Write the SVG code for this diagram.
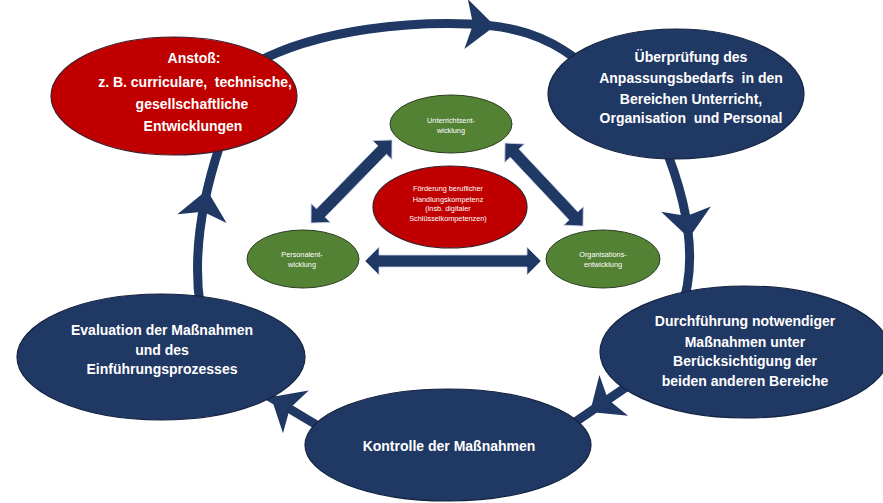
<svg xmlns="http://www.w3.org/2000/svg" width="883" height="503" viewBox="0 0 883 503">
<defs>
<style>
.ring{fill:none;stroke:#203864;stroke-width:9}
.head{fill:#203864}
.navy{fill:#203864;stroke:#15233f;stroke-width:1.2}
.red{fill:#C00000;stroke:#3a1f2a;stroke-width:1.2}
.green{fill:#548235;stroke:#2c3f22;stroke-width:1}
.t{font-family:"Liberation Sans",Arial,sans-serif;font-weight:bold;font-size:14px;fill:#fff;text-anchor:middle;white-space:pre}
.s{font-family:"Liberation Sans",Arial,sans-serif;font-size:7.3px;fill:#fff;text-anchor:middle}
.dbl{fill:#203864;stroke:#c9d3e6;stroke-width:0.8}
</style>
<polygon id="ah" points="0,0 -29,-25 -22,0 -29,25"/>
</defs>
<rect width="883" height="503" fill="#fff"/>
<g id="connectors">
<path class="ring" d="M 250 66 C 320 26, 420 22, 470 24 C 515 26, 545 36, 575 58"/>
<path class="ring" d="M 662 140 Q 706 245 680 312"/>
<path class="ring" d="M 635 381 L 565 429"/>
<path class="ring" d="M 325 430 L 255 388"/>
<path class="ring" d="M 200 305 Q 190 235 220 145"/>
<use href="#ah" class="head" transform="translate(495,26) rotate(4)"/>
<use href="#ah" class="head" transform="translate(689,238) rotate(84)"/>
<use href="#ah" class="head" transform="translate(590,412) rotate(145)"/>
<use href="#ah" class="head" transform="translate(271,397) rotate(211)"/>
<use href="#ah" class="head" transform="translate(207,190) rotate(-80)"/>
<polygon class="dbl" points="365,261 379,247 379,255 527,255 527,247 541,261 527,275 527,267 379,267 379,275"/>
<polygon class="dbl" transform="translate(311,223) rotate(-45.7)" points="0,0 14,-13.5 14,-6 102,-6 102,-13.5 116,0 102,13.5 102,6 14,6 14,13.5"/>
<polygon class="dbl" transform="translate(505,143) rotate(46.8)" points="0,0 14,-13.5 14,-6 100,-6 100,-13.5 114,0 100,13.5 100,6 14,6 14,13.5"/>
</g>
<g id="n-anstoss">
<ellipse class="red" cx="174" cy="96" rx="123" ry="59"/>
<text class="t" x="194" y="63">Anstoß:</text>
<text class="t" x="195" y="87">z. B. curriculare,  technische,</text>
<text class="t" x="192" y="109">gesellschaftliche</text>
<text class="t" x="193" y="131">Entwicklungen</text>
</g>
<g id="n-ueberpruefung">
<ellipse class="navy" cx="676" cy="94" rx="128" ry="65"/>
<text class="t" x="691" y="62">Überprüfung des</text>
<text class="t" x="691" y="83">Anpassungsbedarfs  in den</text>
<text class="t" x="691" y="104">Bereichen Unterricht,</text>
<text class="t" x="691" y="123">Organisation  und Personal</text>
</g>
<g id="n-durchfuehrung">
<ellipse class="navy" cx="745" cy="352" rx="145" ry="66"/>
<text class="t" x="745" y="326">Durchführung notwendiger</text>
<text class="t" x="745" y="347">Maßnahmen unter</text>
<text class="t" x="745" y="366">Berücksichtigung der</text>
<text class="t" x="745" y="386">beiden anderen Bereiche</text>
</g>
<g id="n-kontrolle">
<ellipse class="navy" cx="448" cy="445" rx="143" ry="56"/>
<text class="t" x="449" y="451">Kontrolle der Maßnahmen</text>
</g>
<g id="n-evaluation">
<ellipse class="navy" cx="161" cy="357" rx="144" ry="63"/>
<text class="t" x="162" y="335">Evaluation der Maßnahmen</text>
<text class="t" x="162" y="355">und des</text>
<text class="t" x="162" y="374">Einführungsprozesses</text>
</g>
<g id="n-unterricht">
<ellipse class="green" cx="451" cy="124" rx="61" ry="29"/>
<text class="s" x="451" y="123">Unterrichtsent-</text>
<text class="s" x="451" y="133">wicklung</text>
</g>
<g id="n-foerderung">
<ellipse class="red" cx="450" cy="207" rx="77" ry="41"/>
<text class="s" x="448" y="191">Förderung beruflicher</text>
<text class="s" x="448" y="202">Handlungskompetenz</text>
<text class="s" x="448" y="211">(insb. digitaler</text>
<text class="s" x="448" y="221">Schlüsselkompetenzen)</text>
</g>
<g id="n-personal">
<ellipse class="green" cx="303" cy="259" rx="56" ry="29"/>
<text class="s" x="302" y="257">Personalent-</text>
<text class="s" x="302" y="267">wicklung</text>
</g>
<g id="n-organisation">
<ellipse class="green" cx="603" cy="259" rx="57" ry="29"/>
<text class="s" x="603" y="257">Organisations-</text>
<text class="s" x="603" y="267">entwicklung</text>
</g>
</svg>
